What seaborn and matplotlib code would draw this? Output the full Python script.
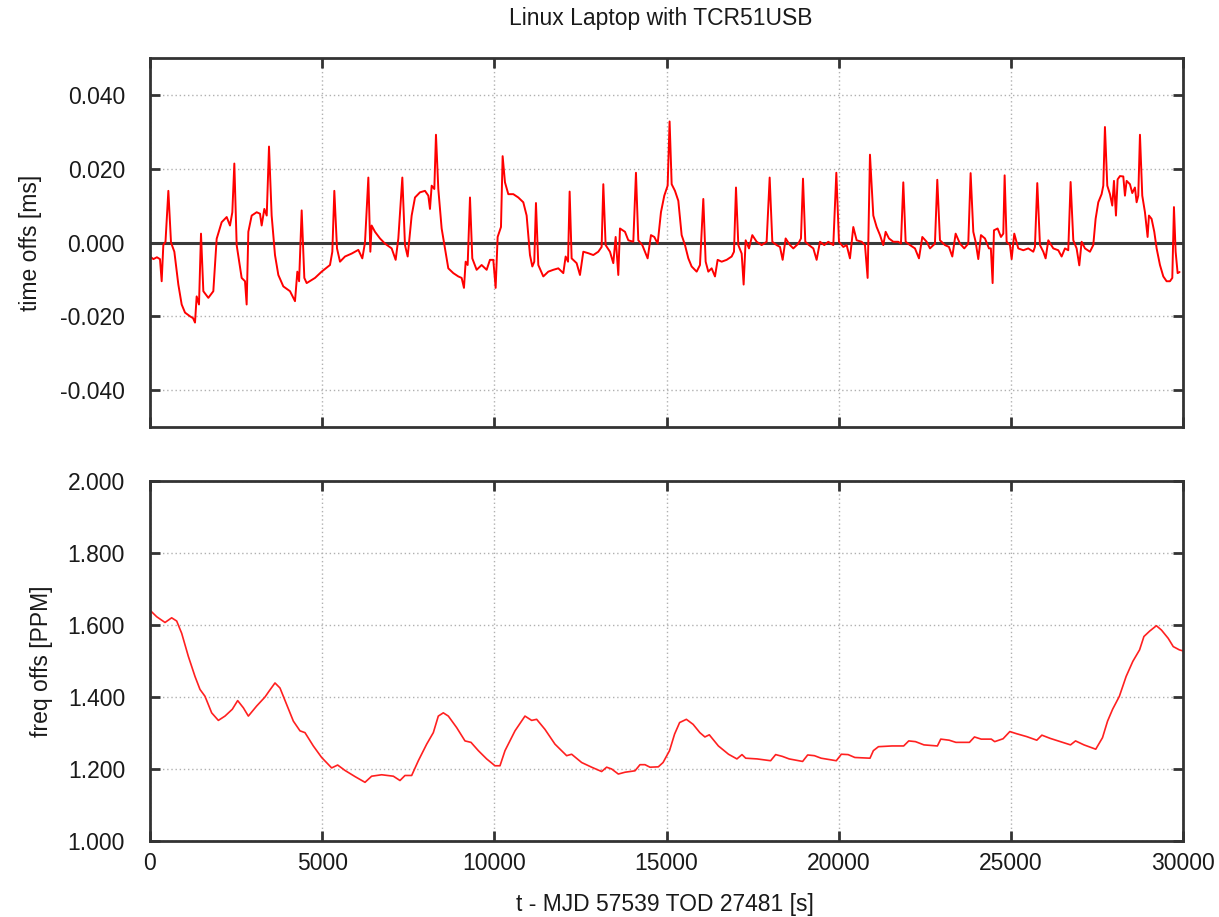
import matplotlib
matplotlib.use("Agg")
import matplotlib.pyplot as plt
import seaborn as sns
import numpy as np

# ---------------- data ----------------
# time offset series [s] -> [ms]
time_t = [0, 100, 200, 290, 339, 387, 450, 533, 610, 707, 823, 920, 1017, 1162, 1250, 1307, 1355, 1423,
          1481, 1549, 1694, 1839, 1936, 2081, 2227, 2323, 2391, 2449, 2517, 2662, 2759, 2807, 2856, 2953,
          3098, 3195, 3243, 3320, 3390, 3456, 3533, 3630, 3727, 3872, 4066, 4211, 4279, 4330, 4405, 4482,
          4550, 4792, 4985, 5227, 5295, 5353, 5431, 5518, 5663, 5857, 6050, 6166, 6244, 6341, 6399, 6437,
          6534, 6679, 6825, 7018, 7134, 7212, 7328, 7405, 7483,
          7599, 7696, 7841, 7986, 8083, 8131, 8180, 8257, 8305, 8373, 8470, 8567, 8663, 8809, 8954, 9051,
          9118, 9167, 9225, 9293, 9360, 9486, 9631, 9777, 9873, 9970, 10038, 10096, 10193, 10241, 10309,
          10406, 10551, 10696, 10841, 10938, 11035, 11103, 11160, 11209, 11277, 11422, 11567, 11713, 11858,
          12003, 12071, 12140, 12187, 12245, 12390, 12487, 12584, 12729, 12874, 13019, 13116, 13165, 13232,
          13358, 13455, 13523, 13600, 13649, 13794, 13891, 14036, 14113, 14181, 14297, 14375, 14452, 14549,
          14646, 14743, 14839, 14936, 15033, 15090, 15150,
          15246, 15343, 15440, 15537, 15634, 15730, 15876, 15972, 16069, 16137, 16214, 16311, 16408, 16485,
          16602, 16747, 16892, 16960, 17018, 17086, 17183, 17240, 17299, 17395, 17492, 17618, 17763, 17908,
          17996, 18073, 18199, 18296, 18373, 18460, 18586, 18683, 18828, 18905, 18964, 19031, 19138, 19264,
          19360, 19457, 19583, 19699, 19844, 19932, 20009, 20135, 20232, 20328, 20425, 20522, 20667, 20764,
          20841, 20909, 21006, 21103, 21200, 21296, 21364, 21461, 21587, 21730, 21809, 21877, 21945, 22071,
          22216, 22332, 22429, 22555,
          22651, 22796, 22864, 22942, 23087, 23203, 23300, 23397, 23522, 23648, 23764, 23832, 23910, 23977,
          24055, 24132, 24248, 24365, 24420, 24471, 24510, 24616, 24713, 24781, 24820, 24878, 24975, 25023,
          25100, 25216, 25362, 25507, 25652, 25700, 25768, 25846, 25943, 26010, 26088, 26233, 26378, 26475,
          26572, 26668, 26736, 26814, 26910, 26988, 27056, 27153, 27298, 27394, 27462, 27540, 27636, 27685,
          27733, 27801, 27879, 27946, 27995, 28053, 28101, 28169, 28266, 28314, 28363, 28459, 28527, 28604,
          28653, 28701, 28750, 28817, 28895, 28972, 29011, 29088, 29166, 29234, 29331, 29428, 29524, 29621,
          29689, 29737, 29786, 29844, 29900]
time_offs = [-0.0038, -0.0045, -0.0040, -0.0045, -0.0105, -0.0007, 0.0002, 0.0140, 0.0000, -0.0025, -0.0114,
             -0.0168, -0.0190, -0.0200, -0.0205, -0.0217, -0.0146, -0.0168, 0.0024, -0.0132, -0.0150, -0.0132,
             0.0010, 0.0055, 0.0069, 0.0046, 0.0082, 0.0214, -0.0007, -0.0096, -0.0105, -0.0168, 0.0029,
             0.0073, 0.0082, 0.0078, 0.0046, 0.0091, 0.0073, 0.0260, 0.0073, -0.0034, -0.0088, -0.0119,
             -0.0132, -0.0159, -0.0079, -0.0105, 0.0087, -0.0096, -0.0110, -0.0096, -0.0079, -0.0061, -0.0025,
             0.0140, -0.0016, -0.0052, -0.0038, -0.0030, -0.0020, -0.0043, 0.0000, 0.0176, -0.0025, 0.0046,
             0.0029, 0.0011, -0.0003, -0.0016, -0.0047, 0.0011, 0.0176, -0.0007, -0.0038,
             0.0073, 0.0122, 0.0136, 0.0140, 0.0127, 0.0091, 0.0154, 0.0145, 0.0292, 0.0145, 0.0038, -0.0016,
             -0.0070, -0.0083, -0.0092, -0.0096, -0.0123, -0.0052, -0.0061, 0.0122, -0.0043, -0.0074, -0.0061,
             -0.0074, -0.0047, -0.0047, -0.0123, 0.0015, 0.0042, 0.0234, 0.0163, 0.0131, 0.0131, 0.0122,
             0.0109, 0.0073, -0.0034, -0.0065, -0.0052, 0.0107, -0.0061, -0.0092, -0.0079, -0.0074, -0.0070,
             -0.0083, -0.0038, -0.0052, 0.0138, -0.0043, -0.0056, -0.0088, -0.0025, -0.0029, -0.0034, -0.0025,
             -0.0012, 0.0158, -0.0007, -0.0025, -0.0056, 0.0015, -0.0088, 0.0038, 0.0029, 0.0006, 0.0002,
             0.0189, 0.0006, -0.0007, -0.0025, -0.0043, 0.0020, 0.0015, -0.0003, 0.0082, 0.0127, 0.0154,
             0.0328, 0.0158,
             0.0140, 0.0113, 0.0020, -0.0007, -0.0043, -0.0065, -0.0079, -0.0061, 0.0118, -0.0052, -0.0079,
             -0.0070, -0.0092, -0.0047, -0.0052, -0.0047, -0.0038, -0.0025, 0.0149, -0.0007, -0.0030, -0.0114,
             0.0006, -0.0016, 0.0020, 0.0002, -0.0007, 0.0002, 0.0176, 0.0002, -0.0007, -0.0012, -0.0047,
             0.0011, -0.0007, -0.0016, -0.0003, 0.0011, 0.0173, 0.0002, -0.0007, -0.0016, -0.0047, 0.0002,
             -0.0007, 0.0002, -0.0007, 0.0189, 0.0002, -0.0012, -0.0007, -0.0043, 0.0042, 0.0006, 0.0002,
             -0.0007, -0.0096, 0.0238, 0.0073, 0.0042, 0.0020, -0.0007, 0.0029, 0.0011, 0.0002, 0.0002,
             -0.0003, 0.0163, 0.0002, -0.0007, -0.0016, -0.0043, 0.0015, 0.0002,
             -0.0016, -0.0003, 0.0170, 0.0006, -0.0007, -0.0012, -0.0038, 0.0024, -0.0003, -0.0016, -0.0003,
             0.0188, 0.0029, 0.0002, -0.0045, 0.0020, 0.0011, -0.0016, -0.0016, -0.0110, 0.0033, 0.0038,
             0.0015, 0.0024, 0.0182, 0.0002, -0.0007, -0.0045, 0.0024, -0.0016, -0.0021, -0.0016, -0.0025,
             -0.0012, 0.0161, -0.0007, -0.0025, -0.0043, 0.0006, -0.0016, -0.0021, -0.0038, -0.0016, -0.0021,
             0.0164, 0.0006, -0.0016, -0.0062, 0.0002, -0.0016, -0.0025, -0.0007, 0.0064, 0.0109, 0.0131,
             0.0154, 0.0313, 0.0154, 0.0131, 0.0100, 0.0167, 0.0073, 0.0171, 0.0180, 0.0179, 0.0127, 0.0167,
             0.0158, 0.0134, 0.0149, 0.0109, 0.0127, 0.0292, 0.0127, 0.0082, 0.0015, 0.0073, 0.0064, 0.0029,
             -0.0016, -0.0061, -0.0092, -0.0105, -0.0105, -0.0096, 0.0096, -0.0025, -0.0083, -0.0080]

# frequency offset series [s] -> [PPM]
freq_t = [0, 194, 436, 629, 775, 920, 1113, 1307, 1452, 1597, 1791, 1985, 2178, 2391, 2546, 2711, 2856, 3098,
          3340, 3456, 3630, 3775, 3969, 4163, 4356, 4501, 4743, 4985, 5276, 5450, 5663, 5953, 6244, 6437,
          6728, 7067, 7260, 7405, 7599, 7793, 8035, 8228, 8373, 8518, 8664, 8906, 9148, 9322, 9535, 9777,
          10019, 10164, 10310, 10600, 10890, 11084, 11229, 11471, 11761, 12100, 12245, 12536, 12826, 13116,
          13262, 13407, 13601, 13794, 14085, 14230, 14375, 14520, 14762, 14900, 15088, 15235, 15381, 15577,
          15773, 15969, 16115, 16243, 16507, 16801, 17045, 17192, 17300, 17632, 18024, 18170, 18366, 18562,
          18953, 19100, 19295, 19491, 19931, 20078, 20274, 20470, 20910, 21008, 21155, 21546, 21888, 22035,
          22231, 22476, 22867, 22965, 23209, 23405, 23797, 23944, 24139, 24433, 24531, 24775, 24971, 25167,
          25460, 25754, 25901, 26145, 26439, 26733, 26879, 27124, 27466, 27662, 27809, 27956, 28152, 28348,
          28543, 28739, 28865, 29031, 29227, 29374, 29570, 29717, 29893, 30000]
freq_offs = [1.641, 1.623, 1.607, 1.620, 1.611, 1.577, 1.513, 1.457, 1.421, 1.402, 1.356, 1.335, 1.347, 1.366,
             1.390, 1.370, 1.347, 1.375, 1.400, 1.416, 1.439, 1.425, 1.379, 1.333, 1.306, 1.301, 1.264, 1.232,
             1.203, 1.211, 1.196, 1.179, 1.163, 1.180, 1.184, 1.180, 1.168, 1.182, 1.182, 1.223, 1.269, 1.301,
             1.347, 1.356, 1.347, 1.315, 1.278, 1.274, 1.251, 1.228, 1.209, 1.209, 1.251, 1.306, 1.347, 1.335,
             1.338, 1.310, 1.269, 1.237, 1.241, 1.218, 1.205, 1.193, 1.205, 1.200, 1.186, 1.191, 1.195, 1.212,
             1.212, 1.205, 1.206, 1.218, 1.251, 1.297, 1.329, 1.338, 1.324, 1.301, 1.289, 1.295, 1.264, 1.241,
             1.228, 1.240, 1.230, 1.228, 1.223, 1.240, 1.235, 1.228, 1.221, 1.239, 1.237, 1.230, 1.223, 1.241,
             1.240, 1.232, 1.230, 1.251, 1.262, 1.264, 1.264, 1.278, 1.276, 1.267, 1.264, 1.283, 1.280, 1.274,
             1.274, 1.289, 1.283, 1.283, 1.276, 1.284, 1.304, 1.298, 1.290, 1.280, 1.294, 1.285, 1.276, 1.267,
             1.278, 1.267, 1.255, 1.287, 1.333, 1.366, 1.402, 1.457, 1.499, 1.531, 1.568, 1.583, 1.598, 1.586,
             1.563, 1.540, 1.531, 1.528]

x_ticks = [0, 5000, 10000, 15000, 20000, 25000, 30000]
time_ticks = [-0.04, -0.02, 0.0, 0.02, 0.04]
freq_ticks = [1.0, 1.2, 1.4, 1.6, 1.8, 2.0]

title = "Linux Laptop with TCR51USB"
time_label = "time offs [ms]"
freq_label = "freq offs [PPM]"
x_label = "t - MJD 57539 TOD 27481 [s]"

# ---------------- style ----------------
sns.set_theme(style="white")
plt.rcParams['font.family'] = ['Liberation Sans', 'DejaVu Sans']
FS = 16.5
FRAME = '#333333'
TXT = '#1a1a1a'

W, H = 1219, 917
fig = plt.figure(figsize=(W / 100, H / 100), dpi=100)
fig.patch.set_facecolor('white')

left = 150 / W
width = 1033 / W
ax1 = fig.add_axes([left, 1 - 427 / H, width, (427 - 58) / H])
ax2 = fig.add_axes([left, 1 - 841 / H, width, (841 - 481) / H])


def style_axes(ax, yticks, ylim, show_xlabels):
    ax.set_facecolor('white')
    ax.set_xlim(0, 30000)
    ax.set_ylim(*ylim)
    ax.set_xticks(x_ticks)
    ax.set_yticks(yticks)
    ax.yaxis.set_major_formatter(matplotlib.ticker.FormatStrFormatter('%.3f'))
    ax.xaxis.set_major_formatter(matplotlib.ticker.FormatStrFormatter('%d'))
    ax.grid(True, color='#b0b0b0', linestyle=(0, (1, 2.0)), linewidth=1.0)
    ax.set_axisbelow(True)
    for s in ax.spines.values():
        s.set_visible(True)
        s.set_color(FRAME)
        s.set_linewidth(2.0)
        s.set_zorder(5)
    ax.tick_params(axis='both', which='major', direction='in', length=7, width=2,
                   color=FRAME, top=True, right=True, bottom=True, left=True,
                   labelsize=FS, labelcolor=TXT)
    ax.tick_params(axis='y', pad=18)
    ax.tick_params(axis='x', pad=8, labelbottom=show_xlabels)


# top panel: time offsets
ax1.axhline(0, color='#3a3a3a', linewidth=2.2, zorder=1.5)
sns.lineplot(x=time_t, y=time_offs, ax=ax1, color='#ff0000', linewidth=1.4,
             estimator=None, zorder=3)
style_axes(ax1, time_ticks, (-0.05, 0.05), False)
ax1.set_xlabel('')
ax1.set_ylabel(time_label, fontsize=FS, color=TXT)
ax1.yaxis.set_label_coords(-0.105, 0.5)

# bottom panel: frequency offsets
sns.lineplot(x=freq_t, y=freq_offs, ax=ax2, color='#ff2020', linewidth=1.2,
             estimator=None, zorder=3)
style_axes(ax2, freq_ticks, (1.0, 2.0), True)
ax2.set_ylabel(freq_label, fontsize=FS, color=TXT)
ax2.yaxis.set_label_coords(-0.094, 0.5)
ax2.set_xlabel(x_label, fontsize=FS, color=TXT)
ax2.xaxis.set_label_coords(0.4983, -0.145)

fig.text(661 / W, 1 - 18.5 / H, title, ha='center', va='center', fontsize=FS, color=TXT)

fig.savefig('out.png', dpi=100, facecolor='white')
